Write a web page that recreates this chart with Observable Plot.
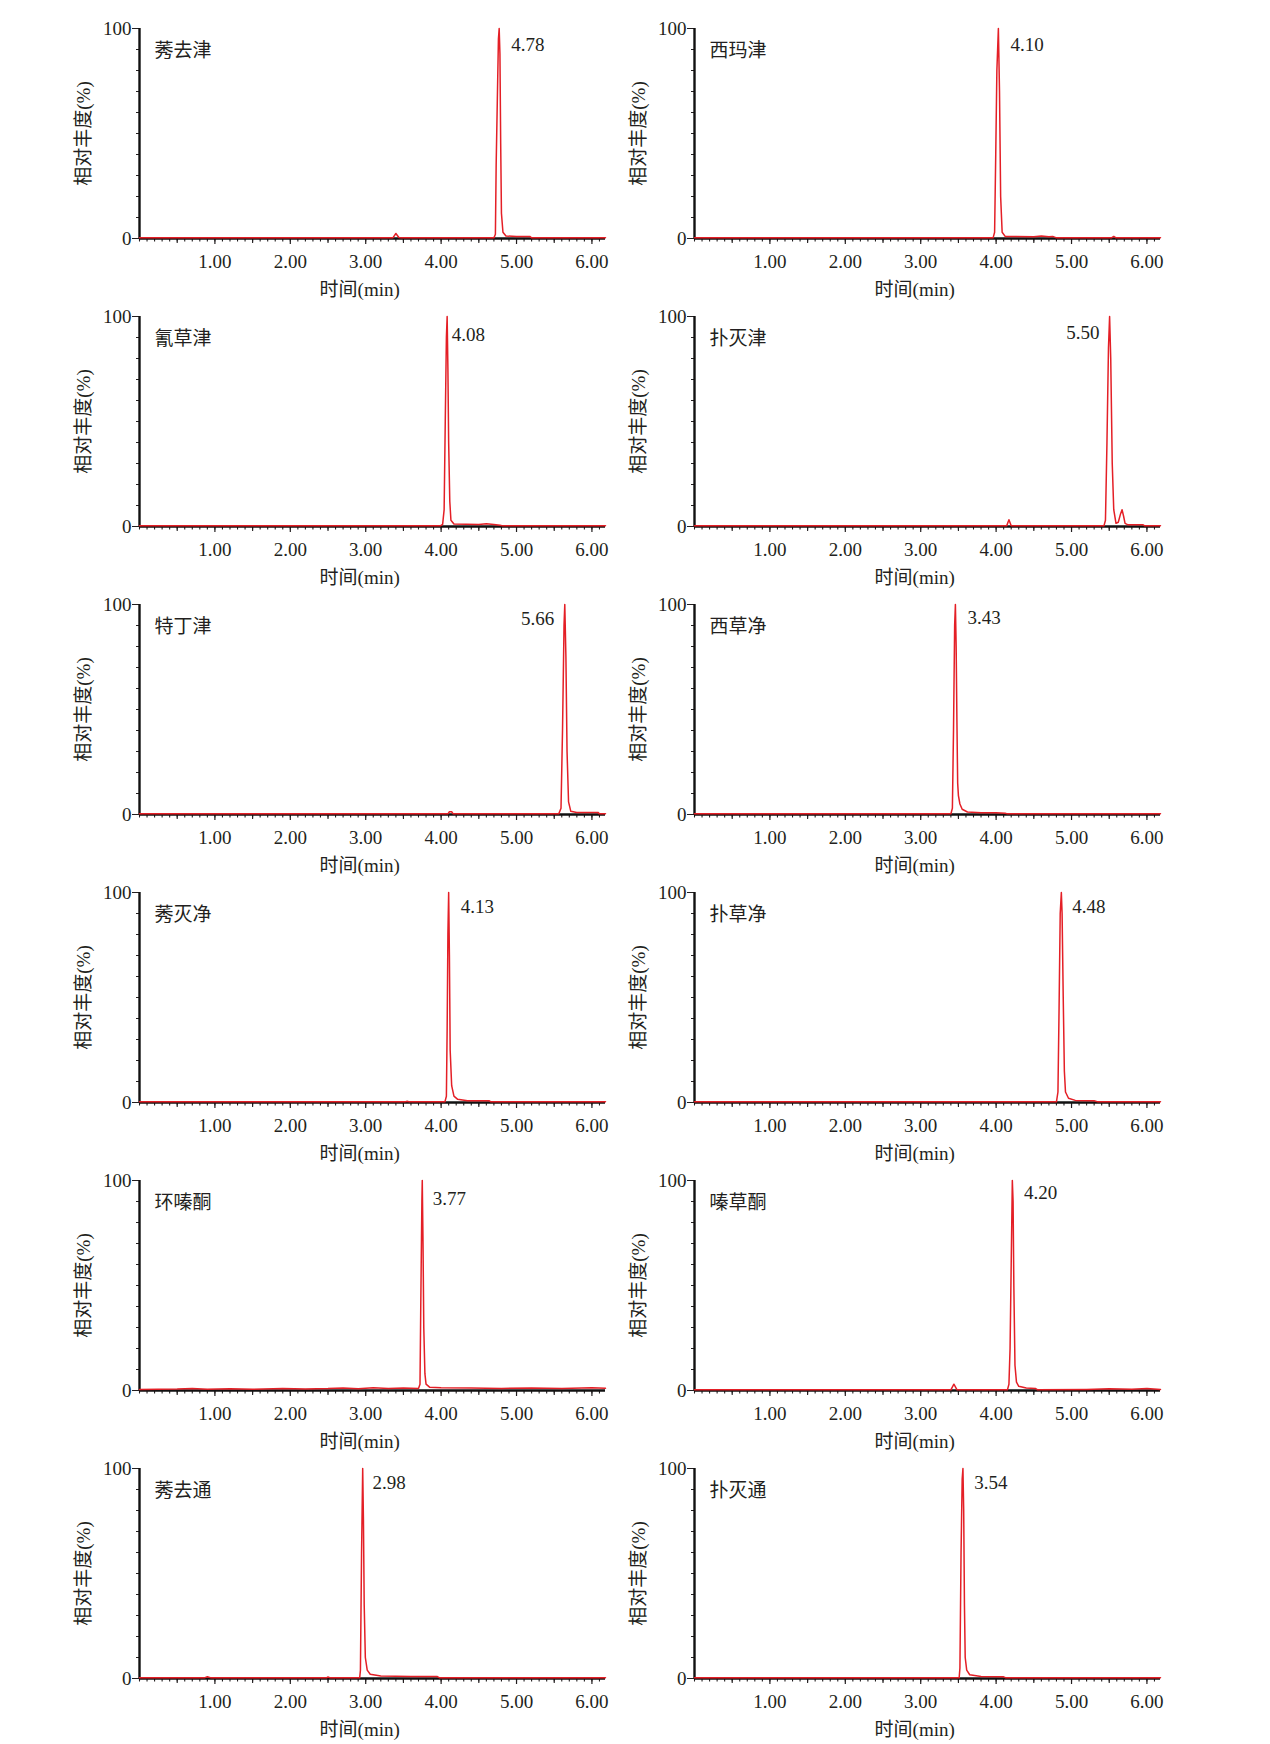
<!DOCTYPE html>
<html><head><meta charset="utf-8">
<script src="https://cdn.jsdelivr.net/npm/d3@7"></script>
<script src="https://cdn.jsdelivr.net/npm/@observablehq/plot@0.6"></script>
<style>
body{margin:0;background:#fff;}
#wrap{position:relative;width:1270px;height:1744px;background:#fff;}
#wrap svg{position:absolute;overflow:visible;}
</style></head><body><div id="wrap"></div>
<script>
// ---------- data ----------
const compounds = ["莠去津","西玛津","氰草津","扑灭津","特丁津","西草净","莠灭净","扑草净","环嗪酮","嗪草酮","莠去通","扑灭通"];
const rtLabels  = ["4.78","4.10","4.08","5.50","5.66","3.43","4.13","4.48","3.77","4.20","2.98","3.54"];
const rtLabelX  = [4.93, 4.19, 4.14, 5.37, 5.50, 3.62, 4.26, 5.01, 3.89, 4.37, 3.09, 3.71];
const rtLabelY  = [92, 92, 91, 92, 93, 93.5, 93, 93, 91, 94, 93, 93];
const rtAnchor  = ["start","start","start","end","end","start","start","start","start","start","start","start"];

const xTickValues = [1, 2, 3, 4, 5, 6];
const yTickValues = [0, 100];
const xTitle = "时间(min)";
const yTitle = "相对丰度(%)";

// chromatogram traces: [time (min), relative abundance (%)]
const trAtrazine = [[0,0.3],[3.36,0.3],[3.40,2.4],[3.44,0.5],[3.47,0.3],[4.70,0.3],[4.72,2],[4.73,35],[4.745,65],[4.76,95],[4.77,100],[4.78,88],[4.79,45],[4.80,12],[4.82,3],[4.86,1.2],[5.0,0.9],[5.18,0.9],[5.2,0.3],[6.18,0.3]];
const trSimazine = [[0,0.3],[3.96,0.3],[3.98,3],[3.995,40],[4.01,80],[4.03,100],[4.045,70],[4.06,20],[4.08,3],[4.12,1],[4.5,0.8],[4.6,1.2],[4.7,0.8],[4.75,1],[4.8,0.3],[5.53,0.3],[5.56,1],[5.59,0.3],[6.18,0.3]];
const trCyanazine = [[0,0.3],[3.99,0.3],[4.02,1],[4.04,8],[4.055,50],[4.07,90],[4.08,100],[4.09,75],[4.10,40],[4.115,12],[4.13,3],[4.17,1.2],[4.5,1],[4.6,1.3],[4.7,1],[4.78,0.6],[4.82,0.3],[6.18,0.3]];
const trPropazine = [[0,0.3],[4.14,0.3],[4.17,3.2],[4.20,0.4],[5.43,0.3],[5.45,3],[5.47,40],[5.49,85],[5.505,100],[5.52,80],[5.54,30],[5.56,8],[5.59,1.5],[5.62,2],[5.65,6],[5.67,8],[5.69,5],[5.71,1.5],[5.75,0.8],[5.95,0.8],[5.97,0.3],[6.18,0.3]];
const trTerbuthylazine = [[0,0.3],[4.09,0.3],[4.11,1.3],[4.14,1.3],[4.16,0.3],[5.56,0.3],[5.59,3],[5.61,40],[5.63,90],[5.64,100],[5.655,75],[5.67,30],[5.69,6],[5.72,1.5],[5.8,1],[6.08,1],[6.1,0.3],[6.18,0.3]];
const trSimetryn = [[0,0.3],[3.40,0.3],[3.42,3],[3.435,40],[3.45,90],[3.46,100],[3.47,80],[3.48,45],[3.49,15],[3.50,9],[3.52,5],[3.55,2.5],[3.62,1.2],[3.8,0.8],[4.0,0.8],[4.12,0.6],[4.15,0.3],[6.18,0.3]];
const trAmetryn = [[0,0.3],[3.52,0.3],[3.55,0.6],[3.58,0.3],[4.05,0.3],[4.07,3],[4.08,35],[4.09,80],[4.10,100],[4.11,70],[4.12,25],[4.14,8],[4.17,3],[4.22,1.5],[4.35,0.8],[4.64,0.8],[4.66,0.3],[6.18,0.3]];
const trPrometryn = [[0,0.3],[4.80,0.3],[4.82,5],[4.835,45],[4.85,90],[4.865,100],[4.875,90],[4.89,50],[4.905,15],[4.92,5],[4.96,2],[5.05,1],[5.3,0.8],[5.35,0.3],[6.18,0.3]];
const trHexazinone = [[0,0.5],[0.5,0.7],[0.7,1.0],[0.9,0.6],[1.2,0.8],[1.5,0.6],[1.9,1.0],[2.2,0.7],[2.5,0.9],[2.7,1.2],[2.9,0.8],[3.1,1.3],[3.3,0.9],[3.5,1.2],[3.7,1.0],[3.72,3],[3.73,40],[3.745,90],[3.75,100],[3.76,70],[3.77,30],[3.785,8],[3.8,3],[3.85,1.5],[4.0,1.3],[4.4,1.2],[4.8,1.0],[5.2,1.2],[5.6,1.0],[6.0,1.3],[6.18,1.1]];
const trMetribuzin = [[0,0.3],[3.40,0.3],[3.44,3],[3.48,0.4],[4.15,0.3],[4.17,3],[4.185,20],[4.20,60],[4.215,100],[4.225,90],[4.235,50],[4.25,12],[4.27,4],[4.3,2],[4.4,1.2],[4.52,1],[4.55,0.3],[5.2,0.5],[5.5,0.8],[5.8,0.6],[6.0,0.9],[6.18,0.5]];
const trAtraton = [[0,0.3],[0.86,0.3],[0.9,0.8],[0.95,0.3],[2.48,0.3],[2.5,0.7],[2.53,0.3],[2.92,0.3],[2.93,4],[2.945,60],[2.96,100],[2.97,75],[2.98,35],[2.995,10],[3.02,4],[3.06,2],[3.2,1.2],[3.6,1],[3.95,0.9],[3.98,0.3],[6.18,0.3]];
const trPrometon = [[0,0.3],[3.51,0.3],[3.52,5],[3.535,60],[3.55,95],[3.56,100],[3.57,80],[3.58,35],[3.59,10],[3.61,4],[3.65,1.8],[3.8,1],[4.1,0.8],[4.13,0.3],[6.18,0.3]];

const traces = [trAtrazine, trSimazine, trCyanazine, trPropazine, trTerbuthylazine, trSimetryn,
                trAmetryn, trPrometryn, trHexazinone, trMetribuzin, trAtraton, trPrometon];

// ---------- drawing ----------
const FONT = "'Liberation Serif','Noto Sans CJK SC',serif";
const INK = "#231f20";
const RED = "#e41f26";
const xMax = 6.18;
const xMinor = d3.range(0, 6.15, 0.1).map(v => +v.toFixed(1));
const xHalf = [0.5, 1.5, 2.5, 3.5, 4.5, 5.5];
const yMinor = d3.range(10, 100, 10);

const wrap = document.getElementById("wrap");

compounds.forEach((name, i) => {
  const row = Math.floor(i / 2), col = i % 2;
  const data = traces[i].map(([t, v]) => ({t, v}));
  const chart = Plot.plot({
    width: 580, height: 288,
    marginLeft: 101, marginRight: 13, marginTop: 28, marginBottom: 50,
    style: {fontFamily: FONT, fontSize: "19px", color: INK, background: "transparent", overflow: "visible"},
    x: {domain: [0, xMax]},
    y: {domain: [0, 100]},
    marks: [
      Plot.axisY(yMinor, {tickSize: 3, tickFormat: () => "", label: null, stroke: INK}),
      Plot.axisY(yTickValues, {tickSize: 7, tickPadding: 1, tickFormat: d => String(d), label: null, stroke: INK, fill: INK, fontSize: 19}),
      Plot.axisX(xMinor, {tickSize: 3.5, tickFormat: () => "", label: null, stroke: INK, strokeWidth: 1.1}),
      Plot.axisX(xHalf, {tickSize: 5, tickFormat: () => "", label: null, stroke: INK, strokeWidth: 1.1}),
      Plot.axisX(xTickValues, {tickSize: 6, tickPadding: 10, tickFormat: d3.format(".2f"), label: null, stroke: INK, strokeWidth: 1.2, fill: INK, fontSize: 19}),
      Plot.ruleY([0], {stroke: "#111", strokeWidth: 2.4}),
      Plot.ruleX([0], {y1: 0, y2: 100, stroke: "#111", strokeWidth: 2.4}),
      Plot.line(data, {x: "t", y: "v", stroke: RED, strokeWidth: 1.5, curve: "linear"}),
      Plot.text([name], {frameAnchor: "top-left", dx: 15, dy: 22, textAnchor: "start", lineAnchor: "middle", fill: INK, fontSize: 19}),
      Plot.text([{x: rtLabelX[i], y: rtLabelY[i], s: rtLabels[i]}], {x: "x", y: "y", text: "s", textAnchor: rtAnchor[i], lineAnchor: "middle", fill: INK, fontSize: 19}),
      Plot.text([{x: 2.92, s: xTitle}], {x: "x", text: "s", frameAnchor: "bottom", dy: 51, lineAnchor: "middle", fill: INK, fontSize: 19}),
      Plot.text([yTitle], {frameAnchor: "left", dx: -56, rotate: -90, textAnchor: "middle", lineAnchor: "middle", fill: INK, fontSize: 19})
    ]
  });
  chart.style.left = (col === 0 ? 38 : 593) + "px";
  chart.style.top = (288 * row) + "px";
  wrap.appendChild(chart);
});
</script>
</body></html>
